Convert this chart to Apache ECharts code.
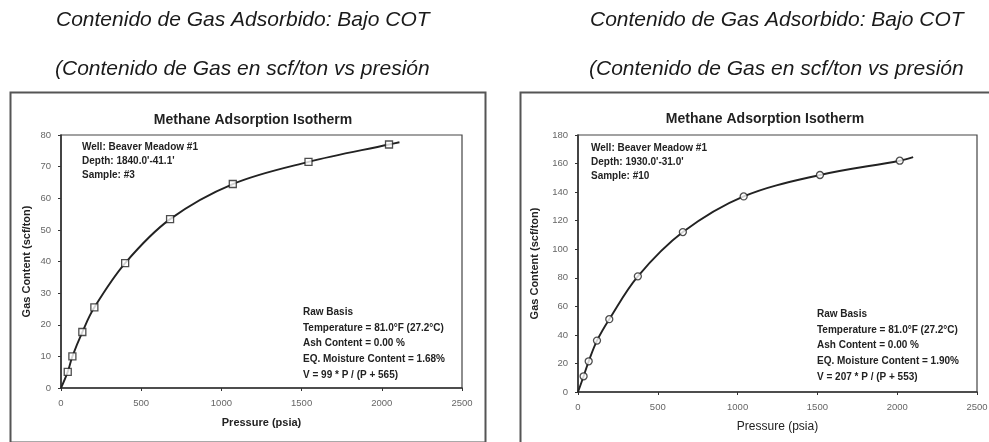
<!DOCTYPE html>
<html>
<head>
<meta charset="utf-8">
<script src="https://cdn.jsdelivr.net/npm/echarts@6/dist/echarts.min.js"></script>
<style>
html,body{margin:0;padding:0;background:#fff;}
#c{width:989px;height:442px;}
</style>
</head>
<body>
<div id="c"></div>
<script>
// ---- data ----
const pageTitle1 = "Contenido de Gas Adsorbido: Bajo COT";
const pageTitle2 = "(Contenido de Gas en scf/ton vs presión";
const chartTitle = "Methane Adsorption Isotherm";
const xName = "Pressure (psia)";
const yName = "Gas Content (scf/ton)";

const xTicks = [0, 500, 1000, 1500, 2000, 2500];
const leftYTicks = [0, 10, 20, 30, 40, 50, 60, 70, 80];
const rightYTicks = [0, 20, 40, 60, 80, 100, 120, 140, 160, 180];

const leftPressure = [42, 71, 133, 208, 400, 680, 1071, 1543, 2045];
const leftGas = [5.1, 10.0, 17.7, 25.5, 39.5, 53.4, 64.5, 71.5, 77.0];
const leftCurveStart = [0, 0];
const leftCurveEnd = [2110, 77.7];

const rightPressure = [35, 67, 119, 196, 375, 657, 1038, 1516, 2016];
const rightGas = [11.0, 21.5, 36.0, 51.0, 81.0, 112.0, 137.0, 152.0, 162.0];
const rightCurveStart = [0, 0];
const rightCurveEnd = [2100, 164.5];

const leftInfoTop = ["Well: Beaver Meadow #1", "Depth: 1840.0'-41.1'", "Sample: #3"];
const leftInfoBottom = ["Raw Basis", "Temperature = 81.0°F (27.2°C)", "Ash Content = 0.00 %", "EQ. Moisture Content = 1.68%", "V = 99 * P / (P + 565)"];
const rightInfoTop = ["Well: Beaver Meadow #1", "Depth: 1930.0'-31.0'", "Sample: #10"];
const rightInfoBottom = ["Raw Basis", "Temperature = 81.0°F (27.2°C)", "Ash Content = 0.00 %", "EQ. Moisture Content = 1.90%", "V = 207 * P / (P + 553)"];

// ---- build ----
const chart = echarts.init(document.getElementById('c'), null, {renderer: 'canvas'});
const FONT = "Liberation Sans";
const INK = "#222";

function pairs(xs, ys) { return xs.map((x, i) => [x, ys[i]]); }

function xAxisCfg(gi, nameBold, nameSize, nameGap) {
  return {
    type: 'value', gridIndex: gi, min: xTicks[0], max: xTicks[xTicks.length - 1], interval: 500,
    name: xName, nameLocation: 'middle', nameGap: nameGap,
    nameTextStyle: {fontFamily: FONT, fontSize: nameSize, fontWeight: nameBold ? 'bold' : 'normal', color: INK},
    axisLine: {show: true, lineStyle: {color: '#333', width: 1.6}},
    axisTick: {show: true, inside: false, length: 3, lineStyle: {color: '#333'}},
    axisLabel: {fontFamily: FONT, fontSize: 9.5, color: '#666', margin: 10, formatter: v => String(v)},
    splitLine: {show: false}
  };
}
function yAxisCfg(gi, ticks, step, nameGap) {
  return {
    type: 'value', gridIndex: gi, min: ticks[0], max: ticks[ticks.length - 1], interval: step,
    name: yName, nameLocation: 'middle', nameGap: nameGap, nameRotate: 90,
    nameTextStyle: {fontFamily: FONT, fontSize: 11, fontWeight: 'bold', color: INK},
    axisLine: {show: true, lineStyle: {color: '#333', width: 1.6}},
    axisTick: {show: true, inside: false, length: 3, lineStyle: {color: '#333'}},
    axisLabel: {fontFamily: FONT, fontSize: 9.5, color: '#666', margin: 10, formatter: v => String(v)},
    splitLine: {show: false}
  };
}

function textBlock(lines, left, top, lh, size) {
  return lines.map((t, i) => ({
    type: 'text', left: left, top: top + i * lh, z: 100,
    style: {text: t, fontFamily: FONT, fontSize: size, fontWeight: 'bold', fill: INK}
  }));
}

const capStyle = {fontFamily: FONT, fontStyle: 'italic', fontWeight: 'normal', fontSize: 21, color: '#1a1a1a'};
const titleStyle = {fontFamily: FONT, fontWeight: 'bold', fontSize: 14, color: INK};

const option = {
  backgroundColor: '#fff',
  animation: false,
  title: [
    {text: pageTitle1, left: 51, top: 5, textStyle: capStyle},
    {text: pageTitle2, left: 50, top: 54, textStyle: capStyle},
    {text: pageTitle1, left: 585, top: 5, textStyle: capStyle},
    {text: pageTitle2, left: 584, top: 54, textStyle: capStyle},
    {text: chartTitle, left: 248, top: 108, textAlign: 'center', textStyle: titleStyle},
    {text: chartTitle, left: 760, top: 107, textAlign: 'center', textStyle: titleStyle}
  ],
  grid: [
    {left: 61, top: 135, width: 401, height: 253, show: true, borderColor: '#444', borderWidth: 1.2, backgroundColor: 'transparent', containLabel: false, outerBoundsMode: 'none'},
    {left: 578, top: 135, width: 399, height: 257, show: true, borderColor: '#444', borderWidth: 1.2, backgroundColor: 'transparent', containLabel: false, outerBoundsMode: 'none'}
  ],
  xAxis: [xAxisCfg(0, true, 11, 29), xAxisCfg(1, false, 12, 29)],
  yAxis: [yAxisCfg(0, leftYTicks, 10, 29), yAxisCfg(1, rightYTicks, 20, 38)],
  series: [
    {type: 'line', xAxisIndex: 0, yAxisIndex: 0, smooth: 0.35, symbol: 'none',
     lineStyle: {color: '#222', width: 1.9},
     data: [leftCurveStart].concat(pairs(leftPressure, leftGas), [leftCurveEnd])},
    {type: 'scatter', xAxisIndex: 0, yAxisIndex: 0, symbol: 'rect', symbolSize: 7,
     itemStyle: {color: '#fff', borderColor: '#222', borderWidth: 1.3}, z: 5,
     data: pairs(leftPressure, leftGas)},
    {type: 'line', xAxisIndex: 1, yAxisIndex: 1, smooth: 0.35, symbol: 'none',
     lineStyle: {color: '#222', width: 1.9},
     data: [rightCurveStart].concat(pairs(rightPressure, rightGas), [rightCurveEnd])},
    {type: 'scatter', xAxisIndex: 1, yAxisIndex: 1, symbol: 'circle', symbolSize: 7,
     itemStyle: {color: '#fff', borderColor: '#222', borderWidth: 1.3}, z: 5,
     data: pairs(rightPressure, rightGas)}
  ],
  graphic: [
    {type: 'rect', left: 8, top: 90, shape: {width: 475, height: 350}, style: {fill: 'none', stroke: '#555', lineWidth: 2}},
    {type: 'rect', left: 518, top: 90, shape: {width: 480, height: 360}, style: {fill: 'none', stroke: '#555', lineWidth: 2}}
  ]
    .concat(textBlock(leftInfoTop, 82, 142, 14, 10))
    .concat(textBlock(leftInfoBottom, 303, 307, 15.75, 10))
    .concat(textBlock(rightInfoTop, 591, 143, 14, 10))
    .concat(textBlock(rightInfoBottom, 817, 309, 15.75, 10))
};
chart.setOption(option);
</script>
</body>
</html>
